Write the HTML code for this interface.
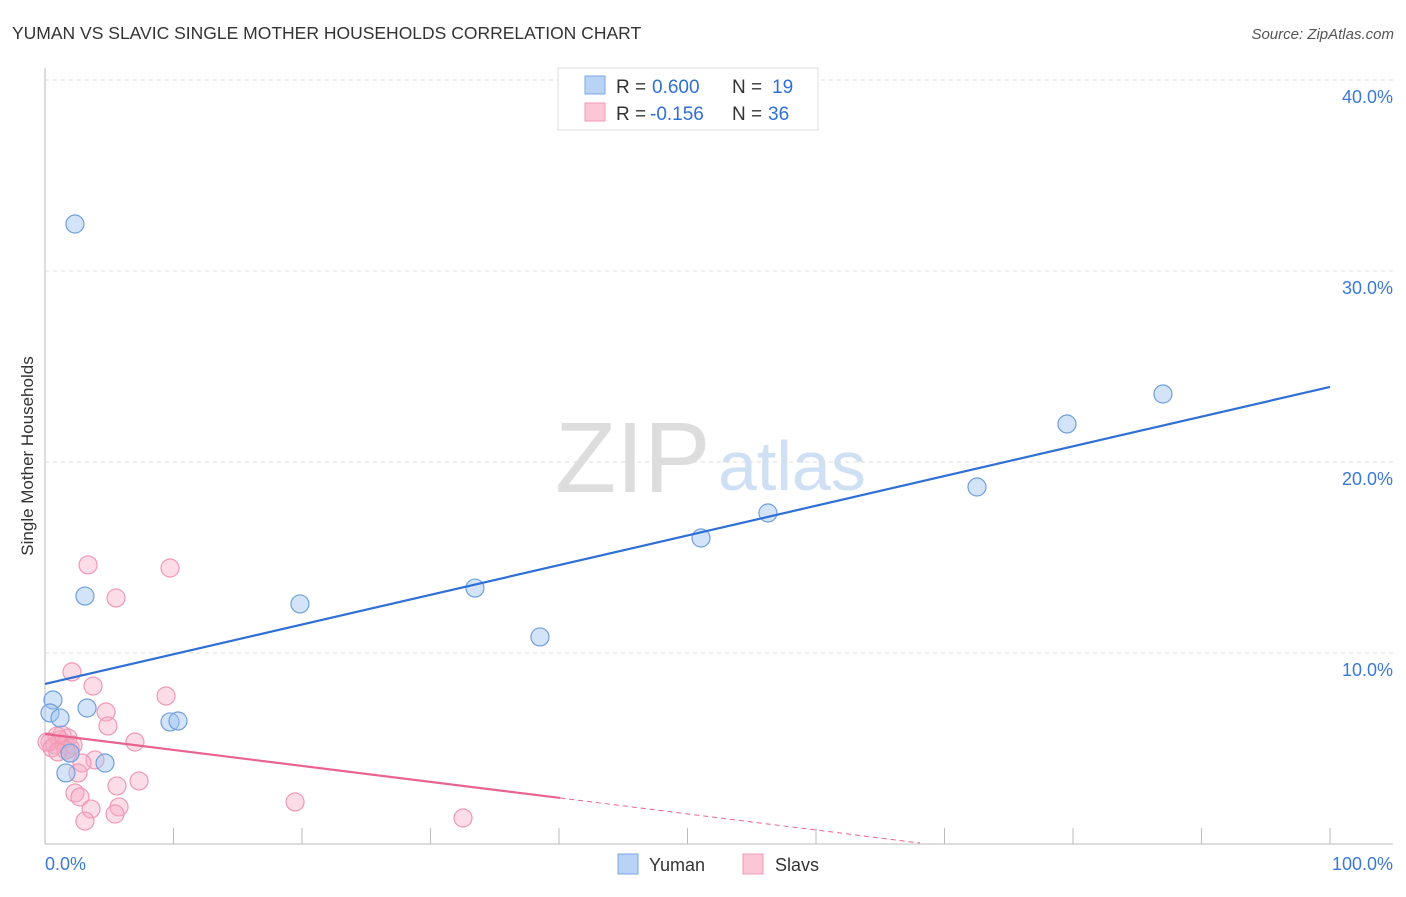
<!DOCTYPE html>
<html><head><meta charset="utf-8"><style>
body{margin:0;background:#fff;font-family:"Liberation Sans",sans-serif}
svg text{font-family:"Liberation Sans",sans-serif}
</style></head><body>
<svg id="c" width="1406" height="892">
<text x="12" y="39" font-size="17.5" fill="#333">YUMAN VS SLAVIC SINGLE MOTHER HOUSEHOLDS CORRELATION CHART</text>
<text x="1394" y="39" font-size="15" fill="#555" text-anchor="end" font-style="italic">Source: ZipAtlas.com</text>
<text x="33" y="456" font-size="17" fill="#333" text-anchor="middle" transform="rotate(-90 33 456)">Single Mother Households</text>
<text x="555" y="492" font-size="100" fill="#ddd" font-family="Liberation Serif">ZIP</text>
<text x="718" y="490" font-size="70" fill="#cfe0f5">atlas</text>
<g id="grid"></g><g id="marks"></g>
<g>
<rect x="558" y="68" width="260" height="62" fill="#fff" stroke="#ddd"/>
<rect x="585" y="76" width="20" height="18" fill="#b9d3f5" stroke="#7aa7e6"/>
<rect x="585" y="103" width="20" height="18" fill="#fbc6d6" stroke="#f098b3"/>
<text x="616" y="93" font-size="19" fill="#333">R =</text>
<text x="652" y="93" font-size="19" fill="#2f6fd6">0.600</text>
<text x="732" y="93" font-size="19" fill="#333">N =</text>
<text x="772" y="93" font-size="19" fill="#2f6fd6">19</text>
<text x="616" y="120" font-size="19" fill="#333">R =</text>
<text x="650" y="120" font-size="19" fill="#2f6fd6">-0.156</text>
<text x="732" y="120" font-size="19" fill="#333">N =</text>
<text x="768" y="120" font-size="19" fill="#2f6fd6">36</text>
</g>
<g>
<rect x="618" y="854" width="20" height="20" fill="#b9d3f5" stroke="#7aa7e6"/>
<text x="649" y="871" font-size="18" fill="#333">Yuman</text>
<rect x="743" y="854" width="20" height="20" fill="#fbc6d6" stroke="#f098b3"/>
<text x="775" y="871" font-size="18" fill="#333">Slavs</text>
</g>
</svg>
<script>
const yTicks=[10,20,30,40];
const xTickLabels=["0.0%","100.0%"];
const yumanX=[2.33,3.11,19.84,33.46,38.52,51.05,56.26,72.53,79.53,87.0,0.62,0.39,1.17,3.27,9.73,10.35,1.95,4.67,1.63];
const yumanY=[32.46,12.98,12.57,13.4,10.84,16.02,17.33,18.69,21.99,23.56,7.54,6.86,6.6,7.12,6.39,6.44,4.76,4.24,3.72];
const slavX=[3.35,9.73,5.53,2.10,3.74,9.42,4.75,4.90,7.00,0.39,0.78,1.17,1.56,0.54,1.32,1.79,1.95,1.95,3.89,2.88,2.57,5.60,7.32,2.33,2.72,3.58,5.76,5.45,3.11,19.46,32.53,0.93,0.16,2.18,1.63,1.0];
const slavY=[14.61,14.45,12.88,9.01,8.27,7.75,6.91,6.18,5.34,5.34,5.18,5.45,5.18,5.03,5.71,5.55,5.03,4.76,4.40,4.24,3.72,3.04,3.30,2.67,2.46,1.83,1.94,1.57,1.20,2.20,1.36,5.65,5.34,5.18,4.92,4.82];
const yumanTrend=[8.38,23.93];
const slavTrend=[5.76,2.41,0.05];
const slavTrendX=[0,40.1,68.1];
const X=v=>45+v*12.85, Y=v=>844-v*19.1;
const NS="http://www.w3.org/2000/svg";
const grid=document.getElementById('grid'),marks=document.getElementById('marks');
function mk(tag,at,p){const e=document.createElementNS(NS,tag);for(const k in at)e.setAttribute(k,at[k]);p.appendChild(e);return e;}
let e=mk('line',{x1:45,y1:68,x2:45,y2:844,stroke:'#bbb'},grid);


e=mk('line',{x1:45,y1:844,x2:1393,y2:844,stroke:'#bbb'},grid);


yTicks.forEach(t=>{
 e=mk('line',{x1:45,x2:1393,y1:Y(t),y2:Y(t),stroke:'#ddd','stroke-dasharray':'4 4'},grid);
 
 
 e=mk('text',{x:1393,y:Y(t)+23,'font-size':18,fill:'#3b78d8','text-anchor':'end'},grid);e.textContent=t.toFixed(1)+'%';
 
 
});
for(let i=0;i<=10;i++){e=mk('line',{x1:X(i*10),x2:X(i*10),y1:828,y2:844,stroke:'#bbb'},grid);
 
 }
e=mk('text',{x:45,y:870,'font-size':18,fill:'#3b78d8'},grid);e.textContent=xTickLabels[0];


e=mk('text',{x:1393,y:870,'font-size':18,fill:'#3b78d8','text-anchor':'end'},grid);e.textContent=xTickLabels[1];


slavX.forEach((x,i)=>{e=mk('circle',{cx:X(x),cy:Y(slavY[i]),r:9,fill:'rgba(248,170,195,0.4)',stroke:'#f098b3','stroke-width':1.2},marks);
 
 });
yumanX.forEach((x,i)=>{e=mk('circle',{cx:X(x),cy:Y(yumanY[i]),r:9,fill:'rgba(160,195,240,0.45)',stroke:'#6f9fe0','stroke-width':1.2},marks);
 
 });
e=mk('line',{x1:X(0),y1:Y(yumanTrend[0]),x2:X(100),y2:Y(yumanTrend[1]),stroke:'#2f6fd6','stroke-width':2.2},marks);


e=mk('line',{x1:X(slavTrendX[0]),y1:Y(slavTrend[0]),x2:X(slavTrendX[1]),y2:Y(slavTrend[1]),stroke:'#e8648f','stroke-width':2.2},marks);


e=mk('line',{x1:X(slavTrendX[1]),y1:Y(slavTrend[1]),x2:X(slavTrendX[2]),y2:Y(slavTrend[2]),stroke:'#e8648f','stroke-width':1,'stroke-dasharray':'5 4'},marks);


</script>
</body></html>
